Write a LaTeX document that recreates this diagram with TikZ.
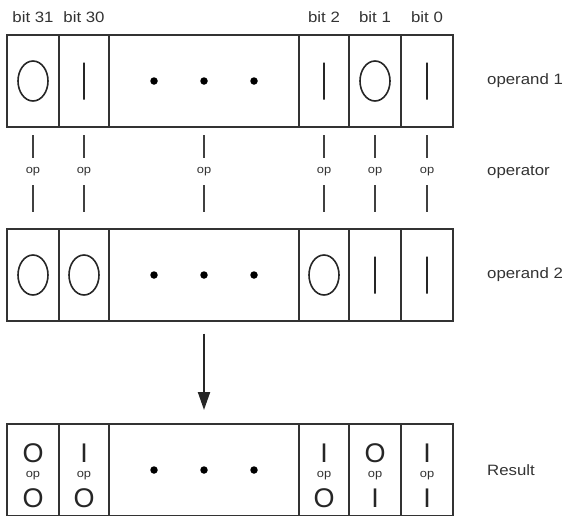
\documentclass[tikz,border=0pt]{standalone}
\usepackage{fontspec}
\setmainfont{Liberation Sans}
\newfontfamily\lblfont[FakeStretch=1.12]{Liberation Sans}
\usetikzlibrary{positioning,arrows.meta,shapes.geometric}

\begin{document}
\begin{tikzpicture}
	[x=1pt,y=-1pt,
	cell/.style={draw=black!80,line width=2pt,inner sep=0pt,outer sep=0pt,minimum width=52pt,minimum height=92pt},
	narrow/.style={cell,minimum width=50pt},
	gap/.style={cell,minimum width=190pt},
	dot/.style={circle,fill=black,inner sep=0pt,minimum size=7.5pt},
	zero/.style={ellipse,draw=black!85,line width=1.6pt,inner sep=0pt,minimum width=30pt,minimum height=40pt},
	one/.style={draw=black!85,line width=1.6pt,inner sep=0pt,minimum width=0pt,minimum height=37pt},
	bitname/.style={font=\lblfont\fontsize{15}{18}\selectfont,text=black!80,inner sep=0pt},
	side/.style={bitname,anchor=west},
	oplabel/.style={font=\lblfont\fontsize{11.5}{13}\selectfont,text=black!80,inner sep=0pt},
	glyph/.style={font=\fontsize{27}{30}\selectfont,text=black!85,inner sep=0pt},
	bar/.style={draw=black!75,line width=2pt},
	flow/.style={draw=black!85,line width=2pt,-{Triangle[width=12pt,length=18pt]}}]
		\useasboundingbox (0,0) rectangle (567,515);
		\foreach \reg/\top in {a/35,b/229,c/424}{
			\node[cell,anchor=north west] (\reg31) at (7,\top) {};
			\node[narrow,right=0pt of \reg31] (\reg30) {};
			\node[gap,right=0pt of \reg30] (\reg m) {};
			\node[narrow,right=0pt of \reg m] (\reg2) {};
			\node[cell,right=0pt of \reg2] (\reg1) {};
			\node[cell,right=0pt of \reg1] (\reg0) {};
			\foreach \d [count=\k] in {-50,0,50}
				\node[dot] (\reg dot\k) at ([xshift=\d pt]\reg m.center) {};
		}
		\foreach \b in {31,30,2,1,0}
			\node[bitname,above=12pt of a\b] (name\b) {bit \b};
		\foreach \b/\s in {31/zero,30/one,2/one,1/zero,0/one}
			\node[\s] (a\b bit) at (a\b) {};
		\foreach \b/\s in {31/zero,30/zero,2/zero,1/one,0/one}
			\node[\s] (b\b bit) at (b\b) {};
		\foreach \b in {31,30,m,2,1,0}{
			\node[oplabel] (op\b) at ([yshift=-45pt]a\b.south) {op};
			\draw[bar,shorten <=8pt,shorten >=14pt] (a\b.south) -- (op\b.center);
			\draw[bar,shorten <=13pt,shorten >=17pt] (op\b.center) -- (b\b.north);
		}
		\foreach \b/\u/\l in {31/O/O,30/I/O,2/I/O,1/O/I,0/I/I}{
			\node[glyph] (c\b up) at ([yshift=17pt]c\b.center) {\u};
			\node[oplabel] (c\b op) at ([yshift=-6pt]c\b.center) {op};
			\node[glyph] (c\b low) at ([yshift=-28pt]c\b.center) {\l};
		}
		\node[side,right=34pt of a0] (lab1) {operand 1};
		\node[side] (labop) at (lab1.west |- op0) {operator};
		\node[side,right=34pt of b0] (lab2) {operand 2};
		\node[side,right=34pt of c0] (labres) {Result};
		\draw[flow,shorten <=12.5pt,shorten >=14pt] (bm.south) -- (cm.north);
	\end{tikzpicture}
\end{document}
